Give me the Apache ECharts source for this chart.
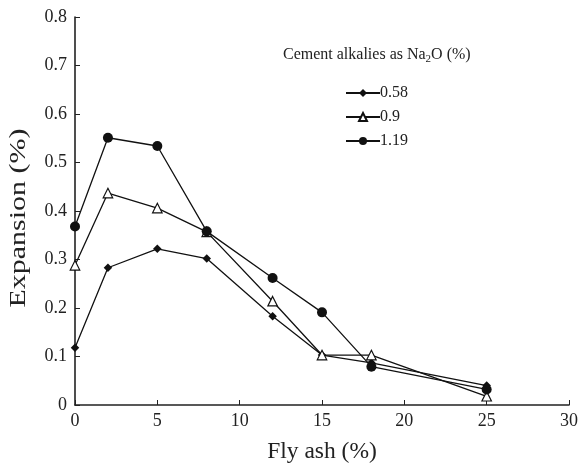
<!DOCTYPE html>
<html><head><meta charset="utf-8">
<script src="https://cdn.jsdelivr.net/npm/echarts@6/dist/echarts.min.js"></script>
<style>html,body{margin:0;padding:0;background:#fff}#c{width:580px;height:463px}</style>
</head><body><div id="c"></div>
<script>
const flyAsh = [0, 2, 5, 8, 12, 15, 18, 25];
const s058 = [0.118, 0.283, 0.322, 0.302, 0.183, 0.103, 0.087, 0.040];
const s090 = [0.288, 0.437, 0.406, 0.357, 0.214, 0.103, 0.103, 0.018];
const s119 = [0.368, 0.551, 0.534, 0.358, 0.262, 0.191, 0.079, 0.032];
const seriesNames = ['0.58', '0.9', '1.19'];
const xTicks = [0, 5, 10, 15, 20, 25, 30];
const yTicks = [0, 0.1, 0.2, 0.3, 0.4, 0.5, 0.6, 0.7, 0.8];

const font = 'Liberation Serif';
const pair = (arr) => flyAsh.map((x, i) => [x, arr[i]]);
const chart = echarts.init(document.getElementById('c'), null, {renderer: 'canvas'});
chart.setOption({
  backgroundColor: '#fff',
  animation: false,
  grid: {left: 75, right: 11, top: 17, bottom: 58, containLabel: false, outerBoundsMode: 'none'},
  xAxis: {
    type: 'value', min: xTicks[0], max: xTicks[xTicks.length - 1], interval: 5,
    name: 'Fly ash (%)', nameLocation: 'middle', nameGap: 35,
    nameTextStyle: {fontFamily: font, fontSize: 23.5, color: '#222'},
    axisLine: {lineStyle: {color: '#222', width: 1.6}},
    axisTick: {inside: true, length: 5, lineStyle: {color: '#222'}},
    axisLabel: {fontFamily: font, fontSize: 18, color: '#222', margin: 7},
    splitLine: {show: false}
  },
  yAxis: {
    type: 'value', min: yTicks[0], max: yTicks[yTicks.length - 1], interval: 0.1,
    axisLine: {show: true, lineStyle: {color: '#222', width: 1.6}},
    axisTick: {show: true, inside: true, length: 5, lineStyle: {color: '#222'}},
    axisLabel: {fontFamily: font, fontSize: 18, color: '#222', margin: 8,
      formatter: v => (v === 0 ? '0' : v.toFixed(1))},
    splitLine: {show: false}
  },
  legend: {
    orient: 'vertical', left: 340, top: 80, itemGap: 8,
    itemWidth: 34, itemHeight: 10,
    textStyle: {fontFamily: font, fontSize: 16, color: '#222', padding: [0,0,0,-5]},
    data: seriesNames
  },
  graphic: [{
    type: 'text', left: 283, top: 47,
    style: {
      text: '{a|Cement alkalies as Na}{s|2}{a|O (%)}',
      rich: {
        a: {fontFamily: font, fontSize: 16, fill: '#222'},
        s: {fontFamily: font, fontSize: 11, fill: '#222', padding: [9, 0, 0, 0]}
      }
    }
  }, {
    type: 'text', x: 19, y: 218, rotation: Math.PI / 2, scaleX: 1.25,
    style: {
      text: 'Expansion (%)', fontFamily: font, fontSize: 24, fill: '#222',
      align: 'center', verticalAlign: 'middle'
    }
  }],
  series: [
    {name: seriesNames[0], type: 'line', data: pair(s058), symbol: 'diamond', symbolSize: 8.5,
     color: '#111', lineStyle: {color: '#111', width: 1.3}, itemStyle: {color: '#111'}},
    {name: seriesNames[1], type: 'line', data: pair(s090), symbol: 'triangle', symbolSize: 9.5,
     color: '#111', lineStyle: {color: '#111', width: 1.3},
     itemStyle: {color: '#fff', borderColor: '#111', borderWidth: 1.2}},
    {name: seriesNames[2], type: 'line', data: pair(s119), symbol: 'circle', symbolSize: 10,
     color: '#111', lineStyle: {color: '#111', width: 1.3}, itemStyle: {color: '#111'}}
  ]
});
</script></body></html>
